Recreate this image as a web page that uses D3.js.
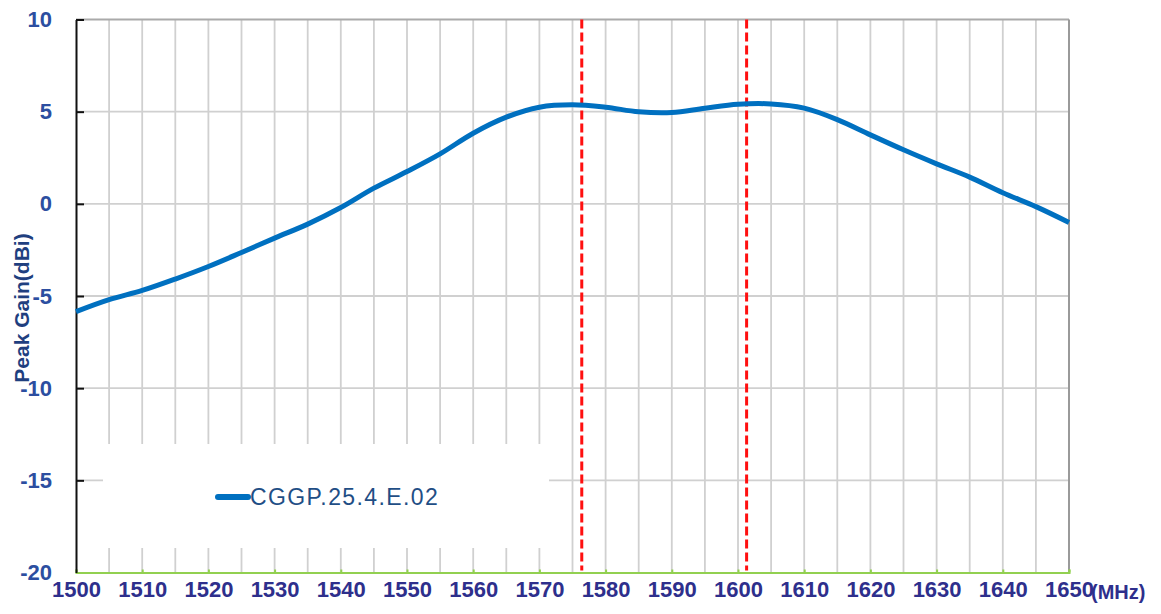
<!DOCTYPE html>
<html>
<head>
<meta charset="utf-8">
<script src="https://cdn.jsdelivr.net/npm/d3@7"></script>
<style>
  body { margin: 0; background: #fff; }
  svg { display: block; font-family: "Liberation Sans", Arial, sans-serif; }
</style>
</head>
<body>
<svg id="chart" width="1161" height="614"></svg>
<script>
// data
const freqs = [1500, 1505, 1510, 1515, 1520, 1525, 1530, 1535, 1540, 1545, 1550, 1555, 1560, 1565, 1570,
               1575, 1580, 1585, 1590, 1595, 1600, 1605, 1610, 1615, 1620, 1625, 1630, 1635, 1640, 1645, 1650];
const gain = [-5.85, -5.2, -4.7, -4.08, -3.4, -2.64, -1.86, -1.1, -0.2, 0.85, 1.75, 2.71, 3.83, 4.7, 5.24,
              5.37, 5.24, 4.99, 4.95, 5.19, 5.4, 5.42, 5.19, 4.57, 3.74, 2.93, 2.17, 1.45, 0.6, -0.15, -1.01];
const markers = [1576.4, 1601.3];
const xLabels = d3.range(1500, 1651, 10);
const xGrid = d3.range(1500, 1651, 5);
const yLabels = [10, 5, 0, -5, -10, -15, -20];
const seriesName = "CGGP.25.4.E.02";

const svg = d3.select("#chart");
const plotLeft = 76, plotRight = 1069, plotTop = 19.5, plotBottom = 572.5;

const x = d3.scaleLinear().domain([1500, 1650]).range([plotLeft, plotRight]);
const y = d3.scaleLinear().domain([-20, 10]).range([plotBottom, plotTop]);

// grid
const grid = svg.append("g");
grid.selectAll(".vg").data(xGrid.slice(1, -1)).join("line")
  .attr("x1", d => x(d)).attr("x2", d => x(d))
  .attr("y1", plotTop).attr("y2", plotBottom)
  .attr("stroke", "#d0d0d0").attr("stroke-width", 1.8);
grid.selectAll(".hg").data(yLabels.slice(1, -1)).join("line")
  .attr("x1", plotLeft).attr("x2", plotRight)
  .attr("y1", d => y(d)).attr("y2", d => y(d))
  .attr("stroke", "#d0d0d0").attr("stroke-width", 1.8);

// top and right border
svg.append("line").attr("x1", plotLeft).attr("x2", plotRight).attr("y1", plotTop).attr("y2", plotTop)
  .attr("stroke", "#aaaaaa").attr("stroke-width", 2);
svg.append("line").attr("x1", plotRight).attr("x2", plotRight).attr("y1", plotTop).attr("y2", plotBottom)
  .attr("stroke", "#9a9a9a").attr("stroke-width", 2);

// legend box hides the grid underneath
svg.append("rect").attr("x", 103).attr("y", 444).attr("width", 446).attr("height", 104).attr("fill", "#fff");
svg.append("line").attr("x1", 218).attr("x2", 248).attr("y1", 497).attr("y2", 497)
  .attr("stroke", "#0070c0").attr("stroke-width", 6).attr("stroke-linecap", "round");
svg.append("text").attr("x", 250).attr("y", 505)
  .attr("font-size", 23).attr("letter-spacing", 1.4).attr("fill", "#1f4e85")
  .text(seriesName);

// x axis (green)
const xAxis = svg.append("g").attr("transform", `translate(0,${plotBottom})`)
  .call(d3.axisBottom(x).tickValues(xLabels).tickSize(-3).tickPadding(12).tickFormat(d => String(d)));
xAxis.select(".domain").attr("stroke", "#92d050").attr("stroke-width", 2);
xAxis.selectAll(".tick line").attr("stroke", "#92d050").attr("stroke-width", 2);
xAxis.selectAll(".tick text").attr("font-size", 22).attr("font-weight", "bold")
  .attr("fill", "#2e2f8c").attr("font-family", "Liberation Sans, Arial, sans-serif").attr("dy", "0.55em");

svg.append("text").attr("x", 1091).attr("y", 599)
  .attr("font-size", 20).attr("font-weight", "bold").attr("fill", "#2e2f8c")
  .text("(MHz)");

// y axis (black, ticks inside)
const yAxis = svg.append("g").attr("transform", `translate(${plotLeft},0)`)
  .call(d3.axisLeft(y).tickValues(yLabels).tickSize(0).tickPadding(24).tickFormat(d => String(d)));
yAxis.select(".domain").attr("stroke", "#111").attr("stroke-width", 2);
yAxis.selectAll(".tick text").attr("font-size", 22).attr("font-weight", "bold")
  .attr("fill", "#2c4ea0").attr("font-family", "Liberation Sans, Arial, sans-serif");
yAxis.selectAll(".tick").filter(d => d !== -20).append("line")
  .attr("x1", 0).attr("x2", 8).attr("stroke", "#111").attr("stroke-width", 2);

svg.append("text")
  .attr("transform", "translate(29,308) rotate(-90)")
  .attr("text-anchor", "middle")
  .attr("font-size", 21).attr("font-weight", "bold").attr("fill", "#1f3f7f")
  .text("Peak Gain(dBi)");

// red markers
svg.selectAll(".marker").data(markers).join("line")
  .attr("x1", d => x(d)).attr("x2", d => x(d))
  .attr("y1", plotTop).attr("y2", plotBottom - 2)
  .attr("stroke", "#ff1010").attr("stroke-width", 3).attr("stroke-dasharray", "9,4");

// curve
const line = d3.line()
  .x((d, i) => x(freqs[i]))
  .y(d => y(d))
  .curve(d3.curveCatmullRom.alpha(0.5));
svg.append("path").datum(gain)
  .attr("d", line)
  .attr("fill", "none").attr("stroke", "#0070c0").attr("stroke-width", 5)
  .attr("stroke-linejoin", "round");
</script>
</body>
</html>
